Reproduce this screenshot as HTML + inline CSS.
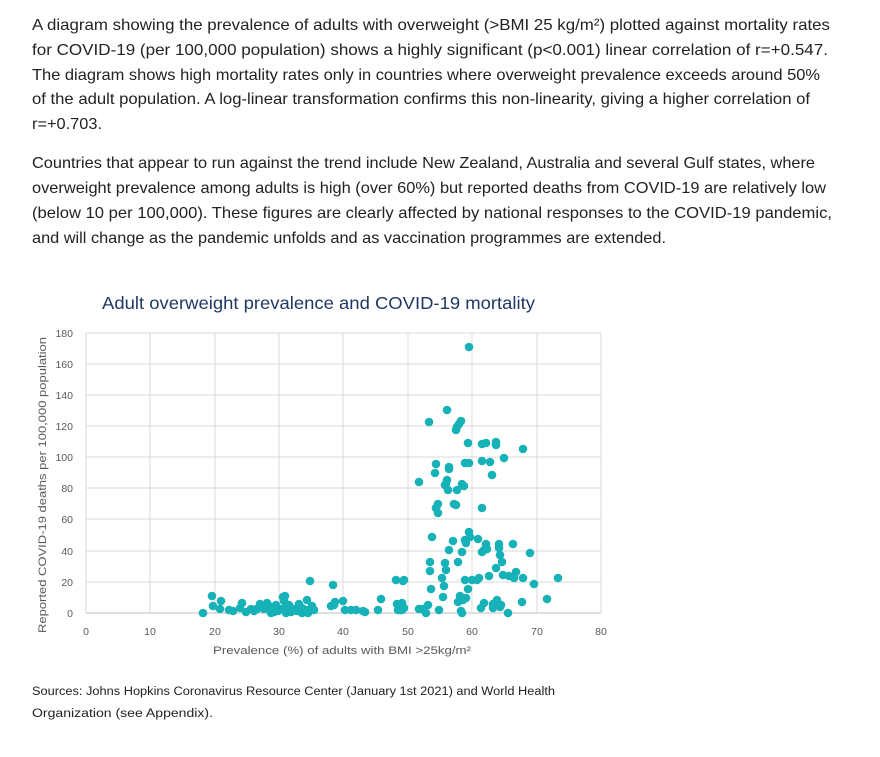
<!DOCTYPE html>
<html><head><meta charset="utf-8"><style>
body{margin:0;width:880px;height:757px;background:#fff;overflow:hidden}
svg{position:absolute;left:0;top:0}
</style></head><body>
<svg width="880" height="757" xmlns="http://www.w3.org/2000/svg" font-family="Liberation Sans, sans-serif">
<g font-size="16" fill="#222" lengthAdjust="spacingAndGlyphs">
<text x="32" y="30" textLength="798" lengthAdjust="spacingAndGlyphs">A diagram showing the prevalence of adults with overweight (&gt;BMI 25 kg/m²) plotted against mortality rates</text>
<text x="32" y="55" textLength="796" lengthAdjust="spacingAndGlyphs">for COVID-19 (per 100,000 population) shows a highly significant (p&lt;0.001) linear correlation of r=+0.547.</text>
<text x="32" y="80" textLength="788" lengthAdjust="spacingAndGlyphs">The diagram shows high mortality rates only in countries where overweight prevalence exceeds around 50%</text>
<text x="32" y="104" textLength="778" lengthAdjust="spacingAndGlyphs">of the adult population. A log-linear transformation confirms this non-linearity, giving a higher correlation of</text>
<text x="32" y="129" textLength="70" lengthAdjust="spacingAndGlyphs">r=+0.703.</text>
<text x="32" y="168" textLength="783" lengthAdjust="spacingAndGlyphs">Countries that appear to run against the trend include New Zealand, Australia and several Gulf states, where</text>
<text x="32" y="193" textLength="794" lengthAdjust="spacingAndGlyphs">overweight prevalence among adults is high (over 60%) but reported deaths from COVID-19 are relatively low</text>
<text x="32" y="218" textLength="800" lengthAdjust="spacingAndGlyphs">(below 10 per 100,000). These figures are clearly affected by national responses to the COVID-19 pandemic,</text>
<text x="32" y="243" textLength="634" lengthAdjust="spacingAndGlyphs">and will change as the pandemic unfolds and as vaccination programmes are extended.</text>
</g>
<text x="102" y="309" textLength="433" lengthAdjust="spacingAndGlyphs" font-size="17.5" fill="#1f3864">Adult overweight prevalence and COVID-19 mortality</text>
<g stroke="#d9d9d9" stroke-width="1">
<line x1="86" y1="333" x2="601" y2="333"/><line x1="86" y1="364" x2="601" y2="364"/><line x1="86" y1="395" x2="601" y2="395"/><line x1="86" y1="426" x2="601" y2="426"/><line x1="86" y1="457" x2="601" y2="457"/><line x1="86" y1="488" x2="601" y2="488"/><line x1="86" y1="519" x2="601" y2="519"/><line x1="86" y1="551" x2="601" y2="551"/><line x1="86" y1="582" x2="601" y2="582"/>
<line x1="86" y1="333" x2="86" y2="613"/><line x1="150" y1="333" x2="150" y2="613"/><line x1="215" y1="333" x2="215" y2="613"/><line x1="279" y1="333" x2="279" y2="613"/><line x1="343" y1="333" x2="343" y2="613"/><line x1="408" y1="333" x2="408" y2="613"/><line x1="472" y1="333" x2="472" y2="613"/><line x1="537" y1="333" x2="537" y2="613"/><line x1="601" y1="333" x2="601" y2="613"/>
<line x1="86" y1="613" x2="601" y2="613" stroke="#bfbfbf"/>
</g>
<g font-size="10.5" fill="#595959" text-anchor="end">
<text x="73" y="337">180</text><text x="73" y="368">160</text><text x="73" y="399">140</text><text x="73" y="430">120</text><text x="73" y="461">100</text><text x="73" y="492">80</text><text x="73" y="523">60</text><text x="73" y="555">40</text><text x="73" y="586">20</text><text x="73" y="617">0</text>
</g>
<g font-size="10.5" fill="#595959" text-anchor="middle">
<text x="86" y="635">0</text><text x="150" y="635">10</text><text x="215" y="635">20</text><text x="279" y="635">30</text><text x="343" y="635">40</text><text x="408" y="635">50</text><text x="472" y="635">60</text><text x="537" y="635">70</text><text x="601" y="635">80</text>
</g>
<text x="213" y="654" textLength="258" lengthAdjust="spacingAndGlyphs" font-size="11" fill="#595959">Prevalence (%) of adults with BMI &gt;25kg/m²</text>
<text transform="translate(46,633) rotate(-90)" textLength="296" lengthAdjust="spacingAndGlyphs" font-size="11" fill="#595959">Reported COVID-19 deaths per 100,000 population</text>
<g fill="#17b1b8">
<circle cx="469" cy="347" r="4.3"/><circle cx="447" cy="410" r="4.3"/><circle cx="429" cy="422" r="4.3"/><circle cx="461" cy="421" r="4.3"/><circle cx="459" cy="424" r="4.3"/><circle cx="457" cy="427" r="4.3"/><circle cx="456" cy="430" r="4.3"/><circle cx="468" cy="443" r="4.3"/><circle cx="482" cy="444" r="4.3"/><circle cx="486" cy="443" r="4.3"/><circle cx="496" cy="442" r="4.3"/><circle cx="496" cy="445" r="4.3"/><circle cx="523" cy="449" r="4.3"/><circle cx="436" cy="464" r="4.3"/><circle cx="449" cy="467" r="4.3"/><circle cx="465" cy="463" r="4.3"/><circle cx="469" cy="463" r="4.3"/><circle cx="482" cy="461" r="4.3"/><circle cx="490" cy="462" r="4.3"/><circle cx="504" cy="458" r="4.3"/><circle cx="435" cy="473" r="4.3"/><circle cx="449" cy="469" r="4.3"/><circle cx="492" cy="475" r="4.3"/><circle cx="419" cy="482" r="4.3"/><circle cx="447" cy="480" r="4.3"/><circle cx="445" cy="485" r="4.3"/>
<circle cx="446" cy="484" r="4.3"/><circle cx="448" cy="490" r="4.3"/><circle cx="462" cy="484" r="4.3"/><circle cx="464" cy="486" r="4.3"/><circle cx="457" cy="490" r="4.3"/><circle cx="456" cy="505" r="4.3"/><circle cx="454" cy="504" r="4.3"/><circle cx="438" cy="504" r="4.3"/><circle cx="436" cy="508" r="4.3"/><circle cx="438" cy="513" r="4.3"/><circle cx="482" cy="508" r="4.3"/><circle cx="469" cy="532" r="4.3"/><circle cx="432" cy="537" r="4.3"/><circle cx="453" cy="541" r="4.3"/><circle cx="465" cy="540" r="4.3"/><circle cx="470" cy="537" r="4.3"/><circle cx="478" cy="539" r="4.3"/><circle cx="486" cy="544" r="4.3"/><circle cx="482" cy="552" r="4.3"/><circle cx="484" cy="550" r="4.3"/><circle cx="487" cy="549" r="4.3"/><circle cx="466" cy="543" r="4.3"/><circle cx="462" cy="552" r="4.3"/><circle cx="449" cy="550" r="4.3"/><circle cx="458" cy="562" r="4.3"/><circle cx="530" cy="553" r="4.3"/><circle cx="513" cy="544" r="4.3"/><circle cx="499" cy="544" r="4.3"/><circle cx="499" cy="548" r="4.3"/><circle cx="500" cy="555" r="4.3"/><circle cx="502" cy="562" r="4.3"/><circle cx="496" cy="568" r="4.3"/><circle cx="489" cy="576" r="4.3"/><circle cx="430" cy="562" r="4.3"/><circle cx="430" cy="571" r="4.3"/><circle cx="445" cy="563" r="4.3"/><circle cx="446" cy="570" r="4.3"/><circle cx="442" cy="578" r="4.3"/><circle cx="444" cy="586" r="4.3"/><circle cx="465" cy="580" r="4.3"/><circle cx="472" cy="580" r="4.3"/><circle cx="477" cy="580" r="4.3"/><circle cx="479" cy="578" r="4.3"/><circle cx="503" cy="575" r="4.3"/><circle cx="509" cy="576" r="4.3"/><circle cx="516" cy="572" r="4.3"/><circle cx="514" cy="578" r="4.3"/><circle cx="523" cy="578" r="4.3"/><circle cx="534" cy="584" r="4.3"/><circle cx="558" cy="578" r="4.3"/><circle cx="404" cy="580" r="4.3"/><circle cx="431" cy="589" r="4.3"/><circle cx="443" cy="597" r="4.3"/><circle cx="468" cy="589" r="4.3"/><circle cx="466" cy="598" r="4.3"/><circle cx="460" cy="596" r="4.3"/><circle cx="458" cy="602" r="4.3"/><circle cx="463" cy="600" r="4.3"/><circle cx="497" cy="600" r="4.3"/><circle cx="501" cy="605" r="4.3"/><circle cx="522" cy="602" r="4.3"/><circle cx="481" cy="608" r="4.3"/><circle cx="484" cy="603" r="4.3"/><circle cx="493" cy="604" r="4.3"/><circle cx="493" cy="608" r="4.3"/><circle cx="500" cy="607" r="4.3"/><circle cx="508" cy="613" r="4.3"/><circle cx="547" cy="599" r="4.3"/><circle cx="428" cy="605" r="4.3"/><circle cx="423" cy="609" r="4.3"/><circle cx="426" cy="613" r="4.3"/><circle cx="401" cy="610" r="4.3"/><circle cx="461" cy="611" r="4.3"/><circle cx="439" cy="610" r="4.3"/><circle cx="462" cy="613" r="4.3"/>
<circle cx="203" cy="613" r="4.3"/><circle cx="212" cy="596" r="4.3"/><circle cx="213" cy="606" r="4.3"/><circle cx="220" cy="609" r="4.3"/><circle cx="221" cy="601" r="4.3"/><circle cx="229" cy="610" r="4.3"/><circle cx="233" cy="611" r="4.3"/><circle cx="240" cy="608" r="4.3"/><circle cx="242" cy="603" r="4.3"/><circle cx="246" cy="612" r="4.3"/><circle cx="251" cy="609" r="4.3"/><circle cx="254" cy="611" r="4.3"/><circle cx="257" cy="609" r="4.3"/><circle cx="260" cy="604" r="4.3"/><circle cx="264" cy="609" r="4.3"/><circle cx="267" cy="603" r="4.3"/><circle cx="269" cy="606" r="4.3"/><circle cx="271" cy="613" r="4.3"/><circle cx="274" cy="612" r="4.3"/><circle cx="276" cy="605" r="4.3"/><circle cx="278" cy="611" r="4.3"/><circle cx="280" cy="609" r="4.3"/><circle cx="283" cy="609" r="4.3"/><circle cx="284" cy="601" r="4.3"/><circle cx="286" cy="613" r="4.3"/><circle cx="289" cy="605" r="4.3"/><circle cx="291" cy="610" r="4.3"/><circle cx="283" cy="597" r="4.3"/><circle cx="285" cy="596" r="4.3"/><circle cx="291" cy="612" r="4.3"/><circle cx="295" cy="609" r="4.3"/><circle cx="297" cy="611" r="4.3"/><circle cx="299" cy="604" r="4.3"/><circle cx="300" cy="609" r="4.3"/><circle cx="302" cy="613" r="4.3"/><circle cx="305" cy="611" r="4.3"/><circle cx="308" cy="613" r="4.3"/><circle cx="302" cy="608" r="4.3"/><circle cx="306" cy="610" r="4.3"/><circle cx="312" cy="606" r="4.3"/><circle cx="310" cy="581" r="4.3"/><circle cx="307" cy="600" r="4.3"/><circle cx="314" cy="610" r="4.3"/><circle cx="333" cy="585" r="4.3"/><circle cx="331" cy="606" r="4.3"/><circle cx="334" cy="605" r="4.3"/><circle cx="335" cy="602" r="4.3"/><circle cx="343" cy="601" r="4.3"/><circle cx="345" cy="610" r="4.3"/><circle cx="351" cy="610" r="4.3"/><circle cx="356" cy="610" r="4.3"/><circle cx="363" cy="611" r="4.3"/><circle cx="365" cy="612" r="4.3"/><circle cx="378" cy="610" r="4.3"/><circle cx="381" cy="599" r="4.3"/><circle cx="396" cy="580" r="4.3"/><circle cx="397" cy="604" r="4.3"/><circle cx="398" cy="610" r="4.3"/><circle cx="402" cy="610" r="4.3"/><circle cx="402" cy="603" r="4.3"/><circle cx="404" cy="608" r="4.3"/><circle cx="403" cy="581" r="4.3"/><circle cx="419" cy="609" r="4.3"/>
</g>
<g font-size="11.5" fill="#222">
<text x="32" y="695" textLength="523" lengthAdjust="spacingAndGlyphs">Sources: Johns Hopkins Coronavirus Resource Center (January 1st 2021) and World Health</text>
<text x="32" y="717" textLength="181" lengthAdjust="spacingAndGlyphs">Organization (see Appendix).</text>
</g>
</svg>
</body></html>
